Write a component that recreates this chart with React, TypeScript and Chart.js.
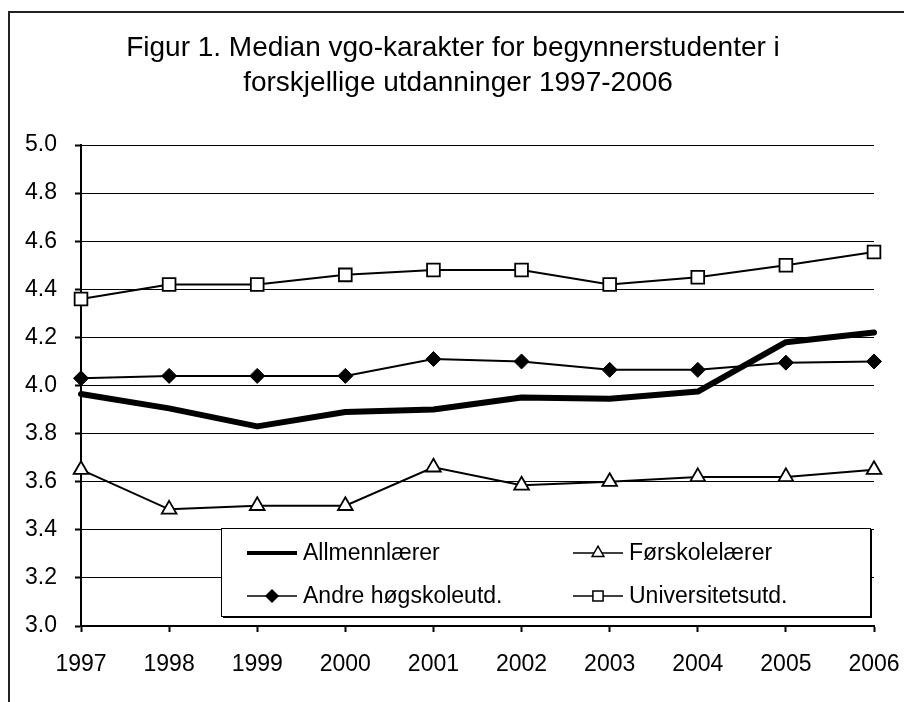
import React, { useEffect, useRef } from "react";
import { Chart, registerables } from "chart.js";
import { drawPoint } from "chart.js/helpers";

Chart.register(...registerables);

const years = ["1997", "1998", "1999", "2000", "2001", "2002", "2003", "2004", "2005", "2006"];
const allmennlaerer = [3.965, 3.905, 3.83, 3.89, 3.9, 3.95, 3.945, 3.975, 4.18, 4.22];
const forskolelaerer = [3.65, 3.485, 3.5, 3.5, 3.66, 3.585, 3.6, 3.62, 3.62, 3.65];
const andreHogskole = [4.03, 4.04, 4.04, 4.04, 4.11, 4.1, 4.065, 4.065, 4.095, 4.1];
const universitet = [4.36, 4.42, 4.42, 4.46, 4.48, 4.48, 4.42, 4.45, 4.5, 4.555];
const titleLines = ["Figur 1. Median vgo-karakter for begynnerstudenter i", "forskjellige utdanninger 1997-2006"];
const seriesNames = ["Allmennlærer", "Førskolelærer", "Andre høgskoleutd.", "Universitetsutd."];

const FONT = "'Liberation Sans', Arial, sans-serif";

const decorPlugin = {
  id: "decor",
  beforeDraw(chart: any) {
    const ctx = chart.ctx;
    ctx.save();
    ctx.fillStyle = "#fff";
    ctx.fillRect(0, 0, chart.width, chart.height);
    ctx.strokeStyle = "#222";
    ctx.lineWidth = 2;
    ctx.strokeRect(9, 12, 2000, 2000);
    ctx.fillStyle = "#000";
    ctx.font = `28px ${FONT}`;
    ctx.textAlign = "center";
    ctx.textBaseline = "middle";
    ctx.fillText(titleLines[0], 453, 48);
    ctx.fillText(titleLines[1], 458, 83);
    ctx.restore();
  },
  afterDraw(chart: any) {
    const ctx = chart.ctx;
    ctx.save();
    const bx = 221, by = 528, bw = 649, bh = 88;
    ctx.fillStyle = "#000";
    ctx.fillRect(bx + 2, by + 2, bw, bh);
    ctx.fillStyle = "#fff";
    ctx.fillRect(bx, by, bw, bh);
    ctx.strokeStyle = "#000";
    ctx.lineWidth = 1;
    ctx.strokeRect(bx + 0.5, by + 0.5, bw, bh);
    const items = [
      { x: 247, y: 553, ds: 0 },
      { x: 573, y: 553, ds: 1 },
      { x: 247, y: 596, ds: 2 },
      { x: 573, y: 596, ds: 3 },
    ];
    ctx.font = `23px ${FONT}`;
    ctx.textBaseline = "middle";
    ctx.textAlign = "left";
    for (const it of items) {
      const ds = chart.data.datasets[it.ds];
      ctx.strokeStyle = "#000";
      ctx.lineWidth = it.ds === 0 ? 4 : 1.5;
      ctx.beginPath();
      ctx.moveTo(it.x, it.y);
      ctx.lineTo(it.x + 50, it.y);
      ctx.stroke();
      if (ds.pointRadius > 0) {
        ctx.fillStyle = ds.pointBackgroundColor;
        ctx.strokeStyle = "#000";
        ctx.lineWidth = 1.5;
        drawPoint(ctx, { pointStyle: ds.pointStyle, radius: ds.pointRadius * 0.8, borderWidth: 1.5, rotation: 0 }, it.x + 25, it.y);
      }
      ctx.fillStyle = "#000";
      ctx.fillText(seriesNames[it.ds], it.x + 56, it.y + 1);
    }
    ctx.restore();
  },
};

export default function App() {
  const ref = useRef<HTMLCanvasElement | null>(null);
  useEffect(() => {
    if (!ref.current) return;
    Chart.defaults.font.family = FONT;
    Chart.defaults.color = "#000";
    const chart = new Chart(ref.current, {
      type: "line",
      data: {
        labels: years,
        datasets: [
          {
            label: seriesNames[0],
            data: allmennlaerer,
            borderColor: "#000",
            borderWidth: 6,
            pointRadius: 0,
            pointStyle: "circle",
            pointBackgroundColor: "#000",
            borderJoinStyle: "round",
            borderCapStyle: "round",
            clip: false,
          },
          {
            label: seriesNames[1],
            data: forskolelaerer,
            borderColor: "#000",
            borderWidth: 2,
            pointStyle: "triangle",
            pointRadius: 8.5,
            pointBorderWidth: 1.8,
            pointBackgroundColor: "#fff",
            pointBorderColor: "#000",
            clip: false,
          },
          {
            label: seriesNames[2],
            data: andreHogskole,
            borderColor: "#000",
            borderWidth: 2,
            pointStyle: "rectRot",
            pointRadius: 7.5,
            pointBorderWidth: 1,
            pointBackgroundColor: "#000",
            pointBorderColor: "#000",
            clip: false,
          },
          {
            label: seriesNames[3],
            data: universitet,
            borderColor: "#000",
            borderWidth: 2,
            pointStyle: "rect",
            pointRadius: 9,
            pointBorderWidth: 1.8,
            pointBackgroundColor: "#fff",
            pointBorderColor: "#000",
            clip: false,
          },
        ],
      },
      options: {
        animation: false,
        responsive: false,
        maintainAspectRatio: false,
        layout: { padding: { top: 145, right: 30, left: 0, bottom: 0 } },
        plugins: { legend: { display: false }, title: { display: false }, tooltip: { enabled: false } },
        scales: {
          x: {
            type: "category",
            offset: false,
            border: { display: true, color: "#000", width: 2 },
            grid: {
              display: true,
              drawOnChartArea: false,
              drawTicks: true,
              tickLength: 6,
              tickColor: "#000",
              tickWidth: 2,
            },
            ticks: { font: { size: 23 }, color: "#000", padding: 19, maxRotation: 0, autoSkip: false },
            afterFit(scale: any) {
              scale.height = 76;
              scale.paddingLeft = 0;
              scale.paddingRight = 0;
            },
          },
          y: {
            min: 3,
            max: 5,
            border: { display: true, color: "#000", width: 2 },
            grid: {
              display: true,
              drawOnChartArea: true,
              color: "#000",
              lineWidth: 1,
              borderDash: [1, 2],
              drawTicks: true,
              tickLength: 6,
              tickColor: "#000",
              tickWidth: 2,
              tickBorderDash: [],
            },
            ticks: {
              stepSize: 0.2,
              font: { size: 23 },
              color: "#000",
              padding: 18,
              callback: (v: any) => Number(v).toFixed(1),
            },
            afterFit(scale: any) {
              scale.width = 81;
              scale.paddingTop = 0;
              scale.paddingBottom = 0;
            },
          },
        },
      },
      plugins: [decorPlugin],
    } as any);
    return () => chart.destroy();
  }, []);
  return (
    <div style={{ position: "fixed", left: 0, top: 0, width: 904, height: 702 }}>
      <canvas ref={ref} width={904} height={702} style={{ width: 904, height: 702, display: "block" }} />
    </div>
  );
}
